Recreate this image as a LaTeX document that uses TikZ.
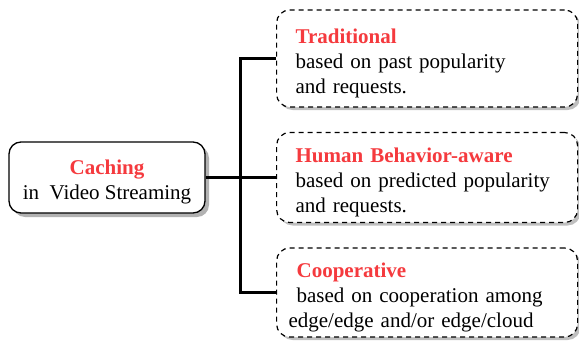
\documentclass[tikz,border=0pt]{standalone}
\usepackage{fontspec}
\setmainfont{Liberation Serif}
\usetikzlibrary{shadows}
\definecolor{headred}{RGB}{245,58,62}
\newcommand{\headstrut}{\rule{0pt}{24pt}}

\begin{document}
\begin{tikzpicture}
	[x=1pt,y=-1pt,
	 font=\fontsize{21}{25}\selectfont,
	 root/.style={draw,rounded corners=12pt,line width=1.3pt,fill=white,align=center,
	   minimum width=196pt,minimum height=71pt,inner sep=0pt,
	   drop shadow={shadow xshift=4pt,shadow yshift=-4pt,fill=black!30,opacity=1}},
	 leaf/.style={draw,dash pattern=on 5pt off 4pt,rounded corners=13pt,line width=1.2pt,
	   fill=white,align=left,text width=263pt,inner xsep=19pt,inner ysep=3pt,anchor=west,
	   drop shadow={shadow xshift=3pt,shadow yshift=-3pt,fill=black!25,opacity=1}},
	 branch/.style={-,line width=3pt}]

	\useasboundingbox (0,0) rectangle (579,343);

	\node[root] (caching) at (107,177.5)
		{\headstrut{\bfseries\color{headred}Caching}\\in\ \ Video Streaming};

	\node[leaf,minimum height=97pt] (trad)  at (276,58.5)
		{\headstrut{\bfseries\color{headred}Traditional}\\based on past popularity\\and requests.};
	\node[leaf,minimum height=90pt] (human) at (276,177.5)
		{\headstrut{\bfseries\color{headred}Human Behavior-aware}\\based on predicted popularity\\and requests.};
	\node[leaf,minimum height=89pt] (coop)  at (276,292.5)
		{\headstrut\hspace*{1pt}{\bfseries\color{headred}Cooperative}\\\hspace*{1pt}based on cooperation among\\\hspace*{-7pt}edge/edge and/or edge/cloud};

	\coordinate (fork) at (240,177.5);

	\draw[branch] (caching.east) -- (human.west);
	\draw[branch] (trad.west) -| (fork) |- (coop.west);
\end{tikzpicture}
\end{document}
